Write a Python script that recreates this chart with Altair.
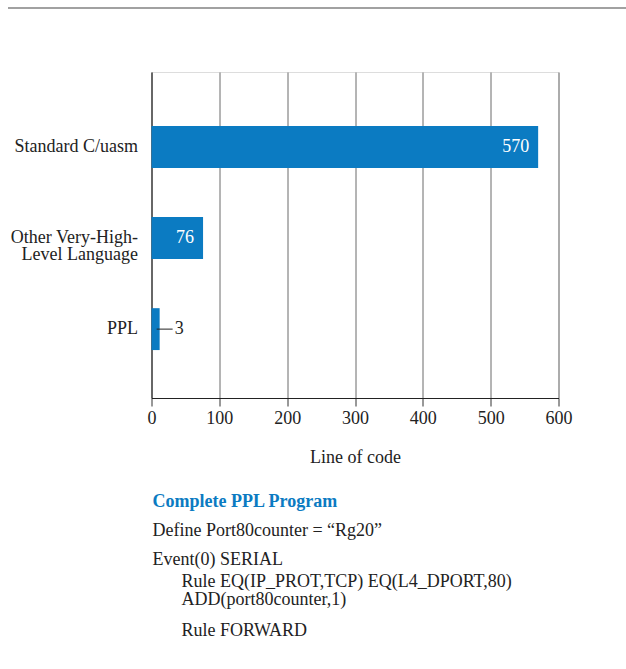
import altair as alt
import pandas as pd

categories = ["Standard C/uasm", "Other Very-High-\nLevel Language", "PPL"]
values = [570, 76, 3]
x_ticks = [0, 100, 200, 300, 400, 500, 600]

program_title = "Complete PPL Program"
program_lines = [
    "Define Port80counter = \u201cRg20\u201d",
    "Event(0) SERIAL",
    "Rule EQ(IP_PROT,TCP) EQ(L4_DPORT,80)",
    "ADD(port80counter,1)",
    "Rule FORWARD",
]

FONT = "Liberation Serif"
BLUE = "#0b7bc2"

df = pd.DataFrame({"cat": categories, "value": values})

base = alt.Chart(df).transform_calculate(disp="max(datum.value, 12)")

x_enc = alt.X(
    "disp:Q",
    scale=alt.Scale(domain=[0, 600], nice=False),
    axis=alt.Axis(
        values=x_ticks,
        title="Line of code",
        titleFont=FONT,
        titleFontSize=18,
        titleFontWeight="normal",
        titleColor="#222",
        titlePadding=21,
        labelFont=FONT,
        labelFontSize=18,
        labelColor="#222",
        labelPadding=3,
        labelFlush=False,
        tickSize=8,
        tickColor="#333",
        domainColor="#222",
        grid=True,
        gridColor="#6a6a6a",
        gridWidth=1,
    ),
)
y_sort = alt.Y("cat:N", sort=categories)
y_enc = alt.Y(
    "cat:N",
    sort=categories,
    scale=alt.Scale(paddingInner=0.54, paddingOuter=0.56, align=0.53),
    axis=alt.Axis(
        title=None,
        labelExpr="split(datum.label, '\\n')",
        labelFont=FONT,
        labelFontSize=18,
        labelColor="#222",
        labelLineHeight=17,
        labelPadding=14,
        ticks=False,
        domainColor="#222",
        labelLimit=300,
    ),
)

bars = base.mark_bar(color=BLUE).encode(x=x_enc, y=y_enc)

inside = base.transform_filter("datum.value >= 50").mark_text(
    align="right", dx=-9, color="white", font=FONT, fontSize=18, baseline="middle"
).encode(x="disp:Q", y=y_sort, text="value:Q")

outside_f = base.transform_filter("datum.value < 50")
leader = outside_f.mark_rule(color="#222", strokeWidth=1, xOffset=-3, x2Offset=13).encode(
    x="disp:Q", x2="disp:Q", y=y_sort
)
outside = outside_f.mark_text(
    align="left", dx=15, color="#222", font=FONT, fontSize=18, baseline="middle"
).encode(x="disp:Q", y=y_sort, text="value:Q")

top_rule = alt.Chart(pd.DataFrame({"a": [0]})).mark_rule(color="#444", strokeWidth=1.2).encode(
    x=alt.value(-143.5), x2=alt.value(474.5), y=alt.value(-64)
)

title_text = alt.Chart(pd.DataFrame({"t": [program_title]})).mark_text(
    align="left", baseline="alphabetic", font=FONT, fontSize=18, fontWeight="bold", color=BLUE
).encode(text="t:N", x=alt.value(1), y=alt.value(435))

line_pos = [(1, 464), (1, 493), (30, 515), (30, 533), (30, 564)]
text_layers = []
for line, (px, py) in zip(program_lines, line_pos):
    text_layers.append(
        alt.Chart(pd.DataFrame({"t": [line]})).mark_text(
            align="left", baseline="alphabetic", font=FONT, fontSize=18, color="#222"
        ).encode(text="t:N", x=alt.value(px), y=alt.value(py))
    )

chart = alt.layer(bars, inside, leader, outside, top_rule, title_text, *text_layers).properties(
    width=407,
    height=326,
    autosize=alt.AutoSizeParams(type="none"),
    padding={"left": 151.5, "top": 72, "right": 67.5, "bottom": 271},
).configure_view(stroke="#444", strokeWidth=1).configure(background="white")

chart.save("out.html", embed_options={"renderer": "svg", "actions": False})
